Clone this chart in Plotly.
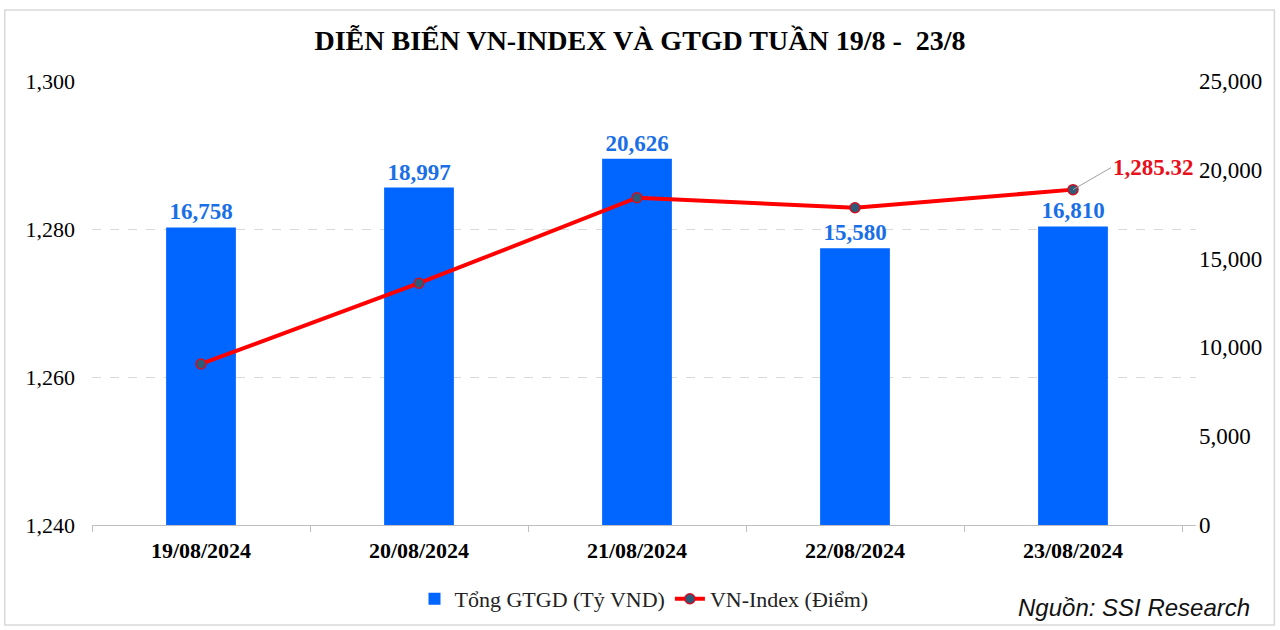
import plotly.graph_objects as go

dates = ["19/08/2024", "20/08/2024", "21/08/2024", "22/08/2024", "23/08/2024"]
gtgd = [16758, 18997, 20626, 15580, 16810]
vnindex = [1261.76, 1272.67, 1284.23, 1282.87, 1285.32]
left_ticks = [1240, 1260, 1280, 1300]
right_ticks = [0, 5000, 10000, 15000, 20000, 25000]

SERIF = "Liberation Serif, Times New Roman, serif"

fig = go.Figure()
fig.add_trace(go.Bar(
    x=dates, y=gtgd, name="Tổng GTGD (Tỷ VND)", yaxis="y",
    marker=dict(color="#0066FF", line=dict(width=0)),
    width=0.32,
    text=[f"<b>{v:,}</b>" for v in gtgd], textposition="outside",
    textfont=dict(family=SERIF, size=23, color="#1A6FE6"),
    cliponaxis=False,
))
fig.add_trace(go.Scatter(
    x=dates, y=vnindex, name="VN-Index (Điểm)", yaxis="y2",
    mode="lines+markers",
    line=dict(color="#FF0000", width=4),
    marker=dict(size=10, color="#2E5A7A", line=dict(color="#D01020", width=1.5)),
))

fig.add_annotation(
    x=dates[-1], y=vnindex[-1], xref="x", yref="y2",
    text=f"<b>{vnindex[-1]:,.2f}</b>", showarrow=True, arrowhead=0,
    arrowcolor="#A0A0A0", arrowwidth=1, ax=38, ay=-22,
    xanchor="left", font=dict(family=SERIF, size=23, color="#E8101A"),
)

fig.add_annotation(
    xref="paper", yref="paper", x=1.051, y=-0.185, xanchor="right", yanchor="middle",
    text="<i>Nguồn: SSI Research</i>", showarrow=False,
    font=dict(family="Liberation Sans Narrow, Liberation Sans, Arial Narrow", size=24, color="#111111"),
)

fig.add_shape(type="rect", xref="paper", yref="paper", x0=-0.079, x1=1.071, y0=-0.225, y1=1.16,
              line=dict(color="#D9D9D9", width=1.5), layer="below")

fig.update_layout(
    width=1280, height=630,
    paper_bgcolor="white", plot_bgcolor="white",
    margin=dict(l=92, r=84, t=81, b=105, autoexpand=False),
    title=dict(text="<b>DIỄN BIẾN VN-INDEX VÀ GTGD TUẦN 19/8 -  23/8</b>",
               x=0.5, xanchor="center", y=1 - 40 / 630, yanchor="middle", yref="container",
               font=dict(family=SERIF, size=28, color="black")),
    xaxis=dict(
        type="category", showline=True, linecolor="#BFBFBF", linewidth=1,
        ticks="outside", tickson="boundaries", ticklen=6, tickcolor="#BFBFBF",
        tickvals=dates, ticktext=[f"<b>{d}</b>" for d in dates],
        tickfont=dict(family=SERIF, size=22, color="black"),
        ticklabelstandoff=6, showgrid=False, automargin=False,
    ),
    yaxis=dict(
        range=[0, 25000], tickvals=right_ticks, ticktext=[f"{v:,}" for v in right_ticks],
        side="right", showgrid=False, zeroline=False, showline=False,
        tickfont=dict(family=SERIF, size=23, color="black"), ticklabelstandoff=2,
        automargin=False,
    ),
    yaxis2=dict(
        range=[1240, 1300], tickvals=left_ticks, ticktext=[f"{v:,}" for v in left_ticks],
        overlaying="y", side="left",
        showgrid=True, gridcolor="#D9D9D9", griddash="dash", gridwidth=1,
        zeroline=False, showline=False,
        tickfont=dict(family=SERIF, size=22, color="black"), ticklabelstandoff=16,
        automargin=False,
    ),
    legend=dict(orientation="h", x=0.5, xanchor="center", y=1 - 599 / 630, yanchor="middle",
                yref="container", font=dict(family=SERIF, size=22, color="#222222"),
                traceorder="normal"),
    showlegend=True,
)

fig.write_html("out.html")
